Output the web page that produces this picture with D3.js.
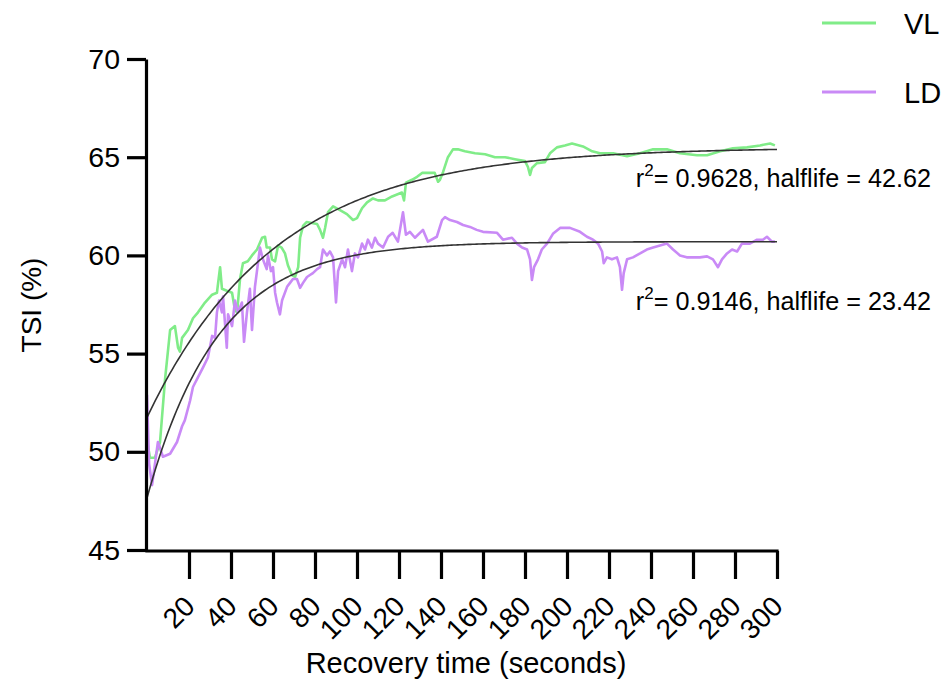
<!DOCTYPE html>
<html>
<head>
<meta charset="utf-8">
<script src="https://cdn.jsdelivr.net/npm/d3@7"></script>
<style>
  html, body { margin: 0; padding: 0; background: #fff; }
  svg { display: block; font-family: "Liberation Sans", Arial, Helvetica, sans-serif; }
</style>
</head>
<body>
<svg id="chart" width="948" height="686"></svg>
<script>
// ---------------- DATA ----------------
const xTicks = [20, 40, 60, 80, 100, 120, 140, 160, 180, 200, 220, 240, 260, 280, 300];
const yTicks = [45, 50, 55, 60, 65, 70];

const seriesNames = ["VL", "LD"];
const seriesColors = ["#80ec88", "#c98af6"];

const vlTime = [0.3,1.4,3.8,6.2,8.6,11,13.3,14.8,15.7,16.7,19.5,21.9,24.3,27.6,31,33.3,34.8,35.7,38,40.5,41.9,42.9,44.3,45.7,48,50,52.4,54.8,56.2,57,58.6,59.5,61,62.4,64.1,65.7,67.1,69,70.5,72,72.9,74.3,76,78.5,81,82.4,83.8,84.8,86.2,88.6,91.9,95.2,98.1,100,102.4,104.8,107.6,110,113.3,116.7,121.4,122.4,123.3,126.2,128.6,131,134.8,137,138.6,139.5,141,143.3,145.7,148,151.4,156.2,161,165.7,170.5,175.2,180,181.4,182.4,183.3,185.7,189.5,191.9,195.2,199,202.4,207.6,212,215.7,222,228.6,234.8,241,247.6,253.8,261.9,266.7,272.9,279,285.7,291.9,296.7,299];
const vlTSI = [50.4,49.7,49.7,50.5,53.7,56.2,56.4,55.3,55.1,55.8,56.2,56.8,57.1,57.6,58.0,58.1,59.4,58.3,58.2,58.1,57.2,57.1,58.8,59.6,59.7,60.0,60.3,60.9,60.95,60.4,60.4,59.8,59.7,60.5,60.4,60.1,59.5,59.0,58.9,59.4,60.9,61.5,61.7,61.65,61.6,61.3,60.9,61.4,62.2,62.5,62.3,62.1,61.8,61.9,62.4,62.7,62.9,62.8,62.8,63.0,63.2,62.8,63.7,63.85,64.0,64.2,64.2,64.2,63.75,63.85,64.25,65.0,65.4,65.4,65.3,65.2,65.15,65.0,65.0,64.9,64.8,64.5,64.1,64.45,64.7,64.75,65.2,65.5,65.6,65.7,65.55,65.3,65.2,65.2,65.05,65.2,65.4,65.4,65.2,65.1,65.1,65.3,65.45,65.5,65.6,65.7,65.6];

const ldTime = [0,0.5,1,2.4,3.8,5.2,7.6,11,14.3,16.7,18,20.5,21.9,24.3,26.7,29,31,32.4,33.3,34.3,35.7,36.2,38,38.6,40.5,41.9,43.3,45.2,46.2,47.6,49,50,51.4,53.8,55.2,57,57.6,59,60,61,61.9,63.3,64.3,66.7,68.1,69.5,71.4,72.9,74.3,76.2,77.6,79,81,82.4,83.8,85.7,87.1,88.6,90,91,92.9,94.3,95.7,97.6,99,100.5,102.4,103.8,105.2,107.1,108.6,110,112.4,114.8,117,119.5,121.9,123.3,125.2,127.6,131.4,133.8,138,140.5,141.9,144.3,147.6,150.5,153.8,157,160,166.7,169.5,173.8,176.2,178.6,181,182.4,183.3,184.3,186.2,188,190.5,193.3,196.7,201.4,206.2,209.5,212.4,214.8,216.7,217.5,219,221.4,223.8,225.2,226.2,227,228.6,231.4,234.8,238,241,244.3,247.6,250.5,253.8,257,260,263.3,266.7,269.5,271.9,273.8,276.2,278.6,281,283.3,287.1,290.5,293.3,295.2,297.6,299];
const ldTSI = [52.9,51.1,49.4,48.3,49.4,50.5,49.75,49.9,50.5,51.3,51.6,52.6,53.3,53.8,54.3,54.8,55.9,55.8,57.1,57.7,57.1,57.9,55.3,57.0,56.4,57.7,57.1,57.6,55.6,57.1,58.3,56.2,58.4,60.4,59.8,59.3,60.0,59.2,59.4,58.1,57.6,57.0,57.7,58.4,58.6,58.8,58.8,58.35,58.6,58.9,59.0,59.1,59.3,59.4,60.3,60.0,60.2,59.9,57.6,59.2,59.8,59.4,60.3,59.2,60.1,59.9,60.6,60.3,60.8,60.4,60.9,60.6,60.4,60.95,61.15,60.7,62.2,61.05,61.2,60.9,61.3,60.7,60.95,61.8,61.95,61.8,61.7,61.55,61.45,61.3,61.2,61.15,60.8,60.9,60.6,60.4,60.3,59.8,58.75,59.4,59.8,60.3,60.6,61.1,61.4,61.4,61.2,60.95,60.8,60.6,60.2,59.6,59.9,59.8,59.9,59.4,58.25,59.1,59.8,59.9,60.1,60.3,60.4,60.5,60.6,60.3,60.0,59.9,59.9,59.9,59.95,59.8,59.4,59.8,60.1,60.3,60.2,60.6,60.6,60.8,60.8,60.95,60.7,60.7];

// one-phase association fit parameters: [Y0, Plateau, half-life]
const vlFit = [51.75, 65.5, 42.62];
const ldFit = [47.65, 60.7, 23.42];
const fitLabels = [["0.9628", "42.62"], ["0.9146", "23.42"]];

// ---------------- CHART ----------------
const svg = d3.select("#chart");
const x = d3.scaleLinear().domain([0, 300]).range([147, 777]);
const y = d3.scaleLinear().domain([45, 70]).range([550, 59]);

const line = d3.line().x(d => x(d[0])).y(d => y(d[1]));

function zip(t, v) { return t.map((tt, i) => [tt, v[i]]); }

// data lines
svg.append("path").datum(zip(vlTime, vlTSI))
  .attr("d", line).attr("fill", "none").attr("stroke", seriesColors[0])
  .attr("stroke-width", 2.6).attr("stroke-linejoin", "round");
svg.append("path").datum(zip(ldTime, ldTSI))
  .attr("d", line).attr("fill", "none").attr("stroke", seriesColors[1])
  .attr("stroke-width", 2.6).attr("stroke-linejoin", "round");

// fit curves
const fitTimes = d3.range(0, 300.5, 1);
[vlFit, ldFit].forEach(p => {
  const k = Math.LN2 / p[2];
  const pts = fitTimes.map(t => [t, p[1] - (p[1] - p[0]) * Math.exp(-k * t)]);
  svg.append("path").datum(pts).attr("d", line)
    .attr("fill", "none").attr("stroke", "#333").attr("stroke-width", 1.6);
});

// axes
const yAxis = svg.append("g").attr("transform", "translate(146,0)")
  .call(d3.axisLeft(y).tickValues(yTicks).tickSize(19).tickPadding(7).tickSizeOuter(0));
yAxis.select(".domain").attr("stroke", "#000").attr("stroke-width", 3.2);
yAxis.selectAll(".tick line").attr("stroke", "#000").attr("stroke-width", 3.2);
yAxis.selectAll(".tick text").attr("font-size", 28.5).attr("fill", "#000");

const xAxis = svg.append("g").attr("transform", "translate(0,551)")
  .call(d3.axisBottom(x).tickValues(xTicks).tickSize(28).tickSizeOuter(0).tickFormat(d3.format("d")));
xAxis.select(".domain").attr("stroke", "#000").attr("stroke-width", 3.2)
  .attr("d", `M${x(0) - 1.6},0H${x(300) + 1.6}`);
xAxis.selectAll(".tick line").attr("stroke", "#000").attr("stroke-width", 3.2);
xAxis.selectAll(".tick text")
  .attr("font-size", 28).attr("fill", "#000")
  .attr("text-anchor", "end").attr("dy", null).attr("y", null)
  .attr("transform", "translate(7,57) rotate(-45)");

// axis titles
svg.append("text").attr("x", 466).attr("y", 673).attr("text-anchor", "middle")
  .attr("font-size", 29).text("Recovery time (seconds)");
svg.append("text").attr("transform", "translate(41,305) rotate(-90)")
  .attr("text-anchor", "middle").attr("font-size", 28).text("TSI (%)");

// fit annotations
[[187, 0], [310, 1]].forEach(([yy, i]) => {
  const t = svg.append("text").attr("x", 931).attr("y", yy)
    .attr("text-anchor", "end").attr("font-size", 25.2);
  t.append("tspan").text("r");
  t.append("tspan").attr("dy", -11).attr("font-size", 17).text("2");
  t.append("tspan").attr("dy", 11).text(`= ${fitLabels[i][0]}, halflife = ${fitLabels[i][1]}`);
});

// legend
[[23, 0], [92, 1]].forEach(([yy, i]) => {
  svg.append("line").attr("x1", 822).attr("x2", 876).attr("y1", yy).attr("y2", yy)
    .attr("stroke", seriesColors[i]).attr("stroke-width", 3);
  svg.append("text").attr("x", 904).attr("y", yy + 11).attr("font-size", 29)
    .text(seriesNames[i]);
});
</script>
</body>
</html>
